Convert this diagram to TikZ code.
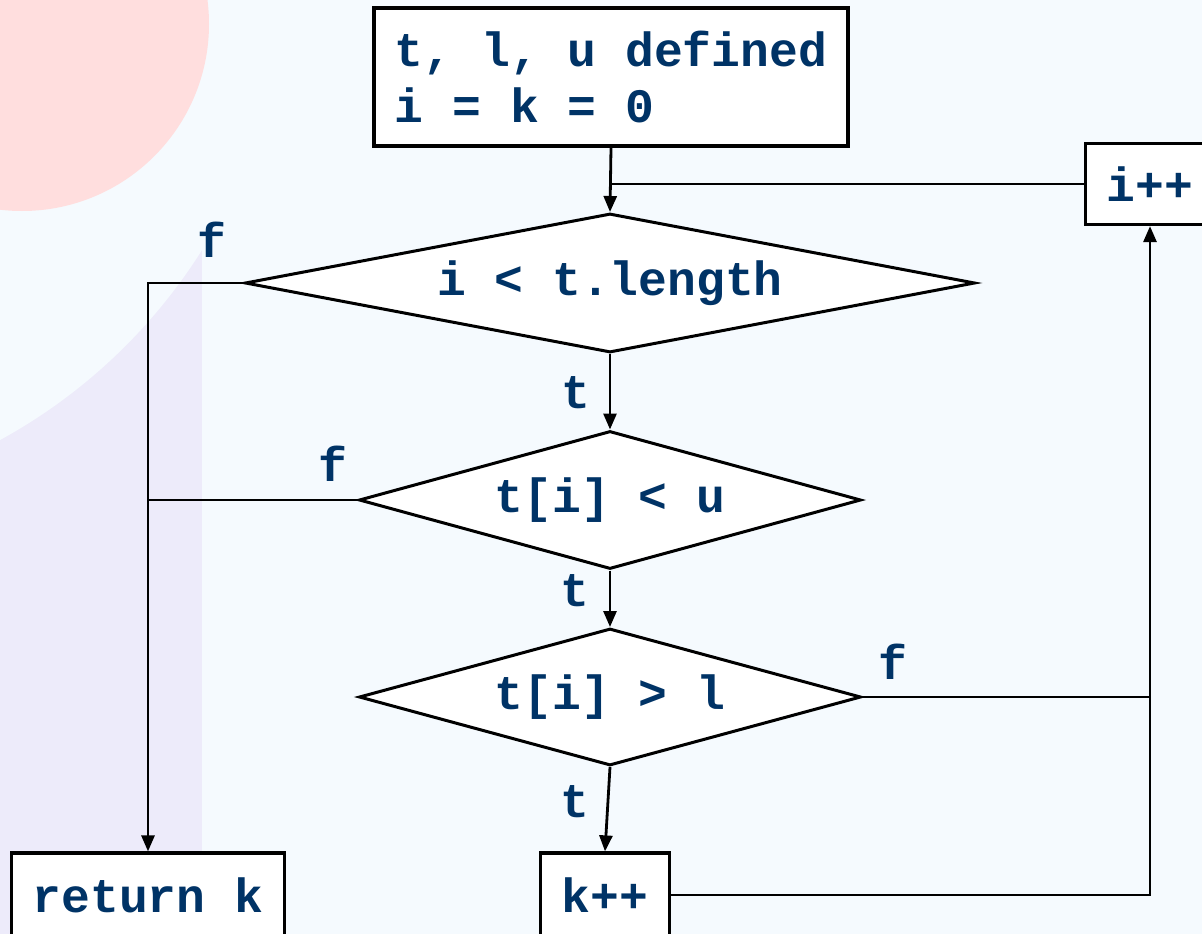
\documentclass[tikz,border=0pt]{standalone}
\usepackage{fontspec}
\setmonofont{Liberation Mono}
\usetikzlibrary{shapes.geometric,arrows.meta}
\definecolor{bgblue}{HTML}{F5FAFE}
\definecolor{blush}{HTML}{FFDEDE}
\definecolor{lilac}{HTML}{EDEBFA}
\definecolor{ink}{HTML}{003366}

\tikzset{
  code/.style={font=\fontsize{48}{56}\selectfont\ttfamily\bfseries, text=ink},
  procbox/.style={code, rectangle, draw=black, line width=3.2pt, fill=white,
    inner xsep=21pt, inner ysep=0pt, minimum height=81pt},
  test/.style={code, diamond, draw=black, line width=3pt, fill=white, inner sep=0pt},
  flow/.style={draw=black, line width=2.8pt},
  arrowflow/.style={flow, -{Triangle[length=16pt,width=13pt]}},
  branch/.style={code, inner sep=0pt, anchor=base},
}

\begin{document}
\begin{tikzpicture}[x=1pt, y=-1pt]
  \useasboundingbox (0,0) rectangle (1202,934);
  \begin{scope}
    \clip (0,0) rectangle (1202,934);
    % background decoration
    \fill[bgblue] (0,0) rectangle (1202,934);
    \fill[lilac] (0,0) rectangle (202,934);
    \fill[bgblue] (-263,-42) circle[radius=549];
    \fill[blush] (22,24) circle[radius=187];

    % nodes
    \node[procbox, align=left, minimum height=138pt] (start) at (611,77)
      {t, l, u defined\\i = k = 0};
    \node[test, aspect=5.25, minimum width=730pt, minimum height=139pt] (d1) at (610,283) {i < t.length};
    \node[test, aspect=3.6, minimum width=502pt, minimum height=138pt] (d2) at (610,500) {t[i] < u};
    \node[test, aspect=3.6, minimum width=502pt, minimum height=137pt] (d3) at (610,697) {t[i] > l};
    \node[procbox, minimum width=128pt] (ipp) at (1150,184) {i++};
    \node[procbox, minimum width=129pt, minimum height=84pt] (kpp) at (605,895) {k++};
    \node[procbox, minimum height=84pt] (ret) at (148,895) {return k};

    % branch labels
    \node[branch] (f1) at (212,257) {f};
    \node[branch] (t1) at (576,408) {t};
    \node[branch] (f2) at (333,481) {f};
    \node[branch] (t2) at (575,606) {t};
    \node[branch] (f3) at (893,679) {f};
    \node[branch] (t3) at (575,817) {t};

    % connectors
    \coordinate (loopin) at (start.south |- ipp.west);
    \coordinate (exitjoin) at (ret.north |- d2.west);
    \coordinate (stepjoin) at (ipp.south |- d3.east);
    \draw[arrowflow] (start.south) -- (d1.north);
    \draw[flow] (ipp.west) -- (loopin);
    \draw[arrowflow] (d1.south) -- (d2.north);
    \draw[arrowflow] (d2.south) -- (d3.north);
    \draw[arrowflow] (d3.south) -- (kpp.north);
    \draw[arrowflow] (d1.west) -| (ret.north);
    \draw[flow] (d2.west) -- (exitjoin);
    \draw[arrowflow] (d3.east) -| (ipp.south);
    \draw[flow] (kpp.east) -| (stepjoin);
  \end{scope}
\end{tikzpicture}
\end{document}
